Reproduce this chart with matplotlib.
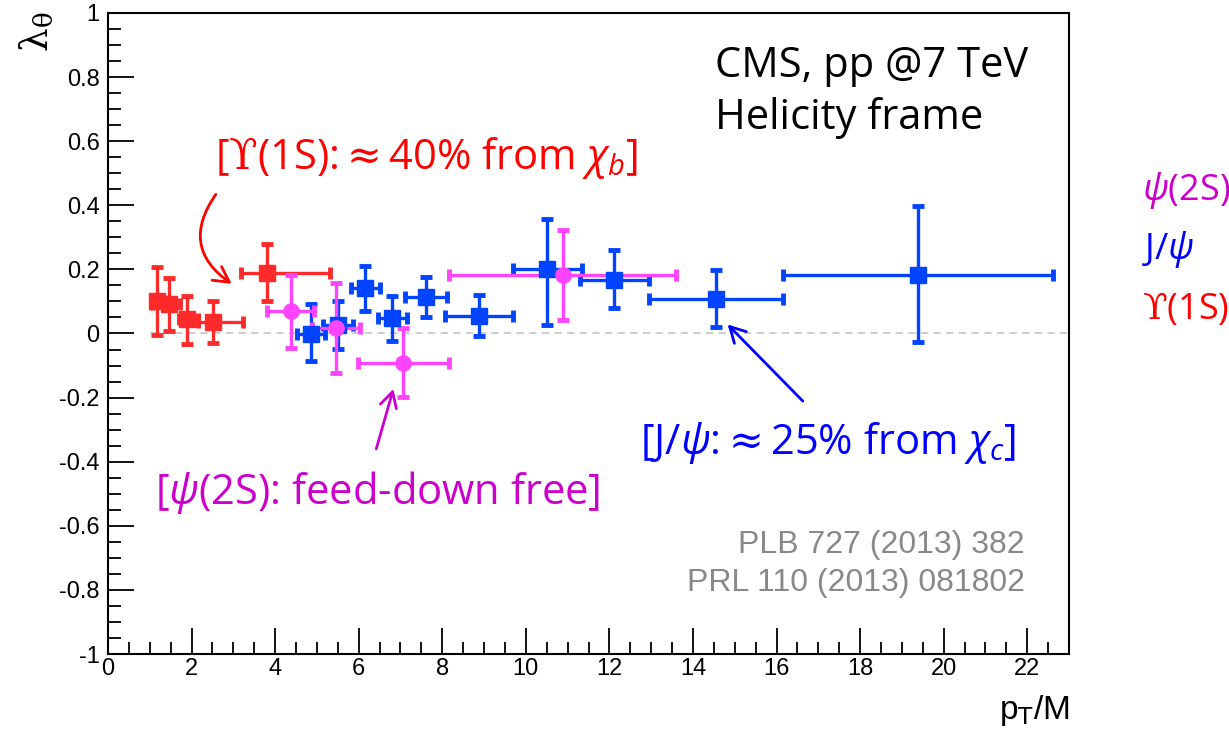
import matplotlib
matplotlib.use('Agg')
import matplotlib.pyplot as plt
from matplotlib.patches import FancyArrowPatch
from matplotlib.ticker import MultipleLocator

plt.rcParams['mathtext.fontset'] = 'custom'
plt.rcParams['mathtext.rm'] = 'DejaVu Serif'
plt.rcParams['mathtext.it'] = 'Open Sans:italic'
plt.rcParams['mathtext.bf'] = 'Open Sans:bold'

# Upsilon(1S): pT/M, lambda_theta, x errors (lo, hi), y errors (lo, hi)
ups_x = [1.18, 1.47, 1.90, 2.51, 3.81]
ups_y = [0.100, 0.093, 0.044, 0.035, 0.190]
ups_xlo = [0.15, 0.42, 0.20, 0.36, 0.63]
ups_xhi = [0.15, 0.25, 0.26, 0.71, 1.50]
ups_ylo = [0.106, 0.086, 0.076, 0.065, 0.089]
ups_yhi = [0.107, 0.081, 0.074, 0.066, 0.088]

# J/psi
jpsi_x = [4.86, 5.51, 6.15, 6.80, 7.61, 8.89, 10.50, 12.11, 14.55, 19.38]
jpsi_y = [-0.003, 0.025, 0.141, 0.049, 0.113, 0.054, 0.200, 0.168, 0.108, 0.183]
jpsi_xlo = [0.34, 0.36, 0.34, 0.35, 0.50, 0.82, 0.81, 0.81, 1.60, 3.23]
jpsi_xhi = [0.33, 0.36, 0.35, 0.35, 0.50, 0.81, 0.84, 0.84, 1.60, 3.24]
jpsi_ylo = [0.084, 0.073, 0.071, 0.071, 0.060, 0.063, 0.175, 0.089, 0.089, 0.210]
jpsi_yhi = [0.096, 0.075, 0.071, 0.067, 0.063, 0.065, 0.156, 0.094, 0.091, 0.214]

# psi(2S)
psi_x = [4.37, 5.45, 7.07, 10.88]
psi_y = [0.069, 0.018, -0.093, 0.184]
psi_xlo = [0.56, 0.57, 1.08, 2.72]
psi_xhi = [0.55, 0.58, 1.10, 2.71]
psi_ylo = [0.114, 0.142, 0.106, 0.141]
psi_yhi = [0.114, 0.139, 0.110, 0.140]

red_data = '#ff2a2a'
blue_data = '#0044ff'
mag_data = '#ff44ff'
red_txt = '#ff0000'
blue_txt = '#0000ff'
mag_txt = '#cc00cc'

fig = plt.figure(figsize=(12.29, 7.37), dpi=100)
ax = fig.add_axes([0.0879, 0.1126, 0.7819, 0.8698])

ax.plot([1.0, 23.0], [0, 0], ls=(0, (4, 3)), color='#c8c8c8', lw=1.3, zorder=1)

def draw_set(x, y, xlo, xhi, ylo, yhi, color, marker):
    ax.errorbar(x, y, xerr=[xlo, xhi], yerr=[ylo, yhi], fmt=marker, color=color,
                ms=11, lw=2.4, capsize=4, capthick=3.5, zorder=3)

draw_set(ups_x, ups_y, ups_xlo, ups_xhi, ups_ylo, ups_yhi, red_data, 's')
draw_set(jpsi_x, jpsi_y, jpsi_xlo, jpsi_xhi, jpsi_ylo, jpsi_yhi, blue_data, 's')
draw_set(psi_x, psi_y, psi_xlo, psi_xhi, psi_ylo, psi_yhi, mag_data, 'o')

ax.set_xlim(0, 23)
ax.set_ylim(-1, 1)
ax.xaxis.set_minor_locator(MultipleLocator(0.5))
ax.yaxis.set_minor_locator(MultipleLocator(0.05))
ax.tick_params(which='both', direction='in', top=False, right=False, width=1.3,
               labelsize=17, colors='black')
ax.tick_params(which='major', length=19)
ax.tick_params(which='minor', length=9)
ax.tick_params(axis='x', pad=3)
ax.tick_params(axis='y', pad=6)
ax.set_xticks(range(0, 23, 2))
ax.set_xticklabels([str(v) for v in range(0, 23, 2)], family='Liberation Sans')
ax.set_yticks([-1, -0.8, -0.6, -0.4, -0.2, 0, 0.2, 0.4, 0.6, 0.8, 1])
ax.set_yticklabels(['-1', '-0.8', '-0.6', '-0.4', '-0.2', '0', '0.2', '0.4', '0.6', '0.8', '1'],
                   family='Liberation Sans')
for s in ax.spines.values():
    s.set_linewidth(1.5)

fig.text(0.030, 0.985, r'$\mathrm{\lambda}_{\mathrm{\theta}}$', rotation=90, ha='center',
         va='top', fontsize=27, math_fontfamily='dejavuserif')
fig.text(0.870, 0.012, r'p$_\mathrm{T}$/M', ha='right', va='bottom', fontsize=24,
         family='Liberation Sans', math_fontfamily='dejavusans')

ann = dict(family='Open Sans', fontsize=30)
ax.text(14.53, 0.836, 'CMS, pp @7 TeV', color='black', va='center', **ann)
ax.text(14.53, 0.671, 'Helicity frame', color='black', va='center', **ann)
ax.text(2.56, 0.546, r'[$\mathrm{ϒ}$(1S):$\approx$40% from $\chi_b$]', color=red_txt,
        va='center', **ann)
ax.text(1.13, -0.496, r'[$\psi$(2S): feed-down free]', color=mag_txt, va='center', **ann)
ax.text(12.74, -0.343, r'[J/$\psi$:$\approx$25% from $\chi_c$]', color=blue_txt,
        va='center', **ann)

ax.text(21.95, -0.661, 'PLB 727 (2013) 382', color='#888888', ha='right', va='center',
        family='Liberation Sans', fontsize=23)
ax.text(21.95, -0.780, 'PRL 110 (2013) 081802', color='#888888', ha='right', va='center',
        family='Liberation Sans', fontsize=23)

leg = dict(family='Open Sans', fontsize=26, va='center')
fig.text(0.929, 0.742, r'$\psi$(2S)', color=mag_txt, **leg)
fig.text(0.929, 0.661, r'J/$\psi$', color=blue_txt, **leg)
fig.text(0.929, 0.579, r'$\mathrm{ϒ}$(1S)', color=red_txt, **leg)

# arrows pointing at the data
arrows = [((2.58, 0.434), (2.96, 0.155), red_txt, 'arc3,rad=0.5'),
          ((6.42, -0.360), (6.83, -0.173), mag_txt, 'arc3,rad=0'),
          ((16.63, -0.211), (14.83, 0.028), blue_txt, 'arc3,rad=0')]
for tail, tip, c, cs in arrows:
    ax.add_patch(FancyArrowPatch(tail, tip, arrowstyle='->,head_length=11,head_width=6',
                                 connectionstyle=cs, color=c, lw=2, zorder=4,
                                 shrinkA=0, shrinkB=0))

fig.savefig('out.png', dpi=100)
